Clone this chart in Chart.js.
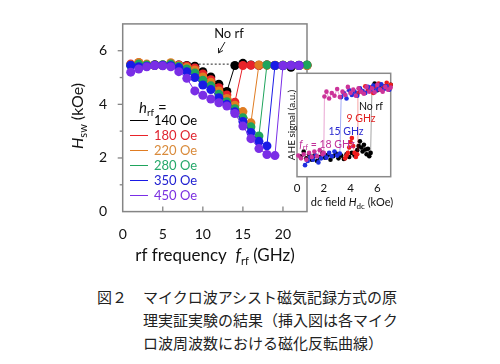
<!DOCTYPE html>
<html>
<head>
<meta charset="utf-8">
<script src="https://cdn.jsdelivr.net/npm/chart.js@4"></script>
<style>
  body { margin: 0; background: #fff; width: 500px; height: 364px; position: relative; overflow: hidden; }
  #wrap { position: absolute; left: 0; top: 0; width: 500px; height: 270px; }
  #wrap canvas { position: absolute; left: 0; top: 0; }
  .cap { position: absolute; font-family: "Noto Sans CJK JP"; font-size: 15px; color: #222; line-height: 23px; white-space: nowrap; }
</style>
</head>
<body>
<div id="wrap">
  <canvas id="main" width="500" height="270"></canvas>
  <canvas id="inset" width="500" height="270"></canvas>
</div>
<div class="cap" style="left:97px;top:285px">図２</div>
<div class="cap" style="left:143px;top:285px">マイクロ波アシスト磁気記録方式の原<br>理実証実験の結果（挿入図は各マイク<br>ロ波周波数における磁化反転曲線）</div>

<script>
// main plot: switching field vs rf frequency
const freqs = [1,2,3,4,5,6,7,8,9,10,11,12,13,14,15,16,17,18,19,20,21,22,23];
const hsw140 = [5.47,5.5,5.46,5.48,5.45,5.5,5.47,5.45,5.42,5.22,5.02,4.75,4.48,5.45,5.53,5.47,5.46,5.47,5.45,5.46,5.38,5.45,5.46];
const hsw180 = [5.5,5.55,5.47,5.46,5.47,5.5,5.47,5.43,5.36,5.13,4.92,4.62,4.35,4.08,5.45,5.46,5.45,5.47,5.46,5.45,5.46,5.45,5.46];
const hsw220 = [5.47,5.56,5.5,5.45,5.47,5.55,5.45,5.38,5.28,5.02,4.82,4.5,4.22,3.97,3.73,3.31,5.47,5.46,5.45,5.46,5.45,5.46,5.45];
const hsw280 = [5.45,5.5,5.47,5.46,5.48,5.5,5.42,5.32,5.17,4.9,4.69,4.38,4.1,3.84,3.5,3.16,2.82,5.47,5.45,5.46,5.46,5.45,5.47];
const hsw350 = [5.46,5.4,5.42,5.46,5.46,5.44,5.37,5.22,5.0,4.72,4.55,4.25,4.0,3.72,3.36,2.95,2.62,2.45,5.45,5.44,5.45,5.46,null];
const hsw450 = [5.2,5.32,5.4,5.45,5.44,5.4,5.22,4.97,4.5,4.34,4.2,4.06,3.94,3.66,3.19,2.72,2.35,2.13,2.09,5.45,5.46,5.45,null];
const noRfLevel = 5.5;

const seriesNames = ["140 Oe","180 Oe","220 Oe","280 Oe","350 Oe","450 Oe"];
const seriesValues = [hsw140, hsw180, hsw220, hsw280, hsw350, hsw450];
const seriesColors = ["#000000","#e8232a","#e07c22","#1fa45c","#1a1ae6","#7a2ee6"];
const legendColors = ["#000000","#e02530","#d98a3a","#25a86a","#2020d0","#7b30e0"];

const yLabels = [0,2,4,6];
const xLabels = [0,5,10,15,20];

// inset: AHE loops
const blackX = [0.3,0.5,0.7,0.9,1.1,1.3,1.5,1.7,1.9,2.1,2.3,2.5,2.7,2.9,3.1,3.3,3.5,3.7,3.9,4.1,4.3,4.5,4.6,4.7,4.8,4.9,5.0,5.1,5.2,5.3,5.4,5.5,5.6,5.8,6.0,6.2,6.4,6.6,6.8,7.0];
const blackY = [0.05,0.12,0.02,0.08,0.0,0.06,-0.02,0.04,0.1,0.03,0.07,0.0,0.05,0.09,0.02,0.06,0.01,0.08,0.04,0.1,0.06,0.14,0.2,0.27,0.18,0.12,0.22,0.15,0.08,0.16,0.05,0.1,1.06,1.12,1.02,1.1,1.04,1.08,1.05,1.1];
const redX = [3.6,3.7,3.8,3.9,4.0,4.1,4.2,4.3,4.4,4.5,4.55,4.7,4.9,5.1,5.3,5.5,5.7,5.9,6.1,6.3,6.5,6.7,6.9,7.0];
const redY = [0.02,0.06,0.1,0.18,0.26,0.32,0.2,0.1,0.04,0.08,0.98,1.04,0.99,1.08,1.02,1.06,0.98,1.05,1.12,1.03,1.08,1.13,1.04,1.1];
const blueX = [0.6,0.8,1.0,1.2,1.4,1.6,1.8,2.0,2.2,2.4,2.6,2.8,3.0,3.2,3.3,3.5,3.7,3.9,4.1,4.3,4.5,4.7,4.9,5.1,5.3,5.5,5.7,5.9,6.1,6.3,6.5,6.7,6.9];
const blueY = [-0.08,-0.02,0.04,0.0,0.06,-0.04,0.02,0.08,0.03,0.1,0.05,0.12,0.06,0.09,0.92,0.98,0.9,1.02,0.95,1.0,0.94,1.05,1.01,0.98,1.07,1.03,1.09,1.02,1.06,1.11,1.04,1.08,1.03];
const magX = [0.1,0.3,0.5,0.7,0.9,1.1,1.3,1.5,1.7,1.9,2.0,2.05,2.2,2.4,2.6,2.8,3.0,3.2,3.4,3.6,3.8,4.0,4.2,4.4,4.6,4.8,5.0,5.2,5.4,5.6,5.8,6.0,6.2,6.4,6.6,6.8,7.0];
const magY = [0.06,0.02,0.08,0.0,0.1,0.04,0.12,0.05,0.14,0.08,0.1,0.93,1.0,0.9,0.98,0.94,1.04,0.92,1.0,0.95,1.07,0.98,1.03,0.94,1.05,1.0,0.97,1.07,1.0,1.05,0.99,1.1,1.03,1.0,1.07,1.03,1.06];
const insetTicks = [0,2,4,6];

Chart.defaults.font.family = "Lato";
Chart.defaults.color = "#111";

function richText(ctx, parts, x, y, align) {
  let w = 0;
  for (const p of parts) { ctx.font = p[1]; w += ctx.measureText(p[0]).width; }
  let cx = align === "center" ? x - w / 2 : x;
  for (const p of parts) {
    ctx.font = p[1];
    ctx.fillText(p[0], cx, y + (p[2] || 0));
    cx += ctx.measureText(p[0]).width;
  }
}

function frame(ctx, a, color) {
  ctx.save();
  ctx.setLineDash([]);
  ctx.strokeStyle = color;
  ctx.lineWidth = 1.5;
  ctx.strokeRect(a.left, a.top, a.right - a.left, a.bottom - a.top);
  ctx.restore();
}

// nudge layout padding until the plot box sits where the picture has it
function pinArea(chart, target) {
  for (let k = 0; k < 3; k++) {
    const a = chart.chartArea, p = chart.options.layout.padding;
    p.left += target.left - a.left;
    p.top += target.top - a.top;
    p.right += a.right - target.right;
    p.bottom += a.bottom - target.bottom;
    chart.update();
  }
}

const mainDecor = {
  id: "mainDecor",
  beforeDatasetsDraw(chart) {
    const { ctx, chartArea: a, scales } = chart;
    frame(ctx, a, "#858585");
    ctx.save();
    ctx.strokeStyle = "#858585";
    ctx.lineWidth = 1.3;
    // y ticks (outside), minor at odd values
    for (let v = 1; v <= 6; v++) {
      const y = scales.y.getPixelForValue(v);
      const len = v % 2 === 0 ? 5 : 3;
      ctx.beginPath(); ctx.moveTo(a.left - len, y); ctx.lineTo(a.left, y); ctx.stroke();
    }
    // x ticks (inside)
    for (const v of xLabels.slice(1)) {
      const x = scales.x.getPixelForValue(v);
      ctx.beginPath(); ctx.moveTo(x, a.bottom); ctx.lineTo(x, a.bottom - 5); ctx.stroke();
    }
    ctx.restore();
  },
  afterDraw(chart) {
    const { ctx } = chart;
    ctx.save();
    ctx.fillStyle = "#111";
    ctx.textBaseline = "alphabetic";
    // axis titles
    richText(ctx, [["rf frequency  ", "17px Lato"], ["f", "italic 17px Lato"], ["rf", "11px Lato", 4], [" (GHz)", "17px Lato"]], 215, 261, "center");
    ctx.save();
    ctx.translate(77, 116);
    ctx.rotate(-Math.PI / 2);
    richText(ctx, [["H", "italic 16px Lato"], ["sw", "11px Lato", 4], [" (kOe)", "16px Lato"]], 0, 6, "center");
    ctx.restore();
    // no rf label + arrow
    ctx.font = "13px Lato";
    ctx.textAlign = "center";
    ctx.fillText("No rf", 229, 38);
    ctx.textAlign = "left";
    ctx.strokeStyle = "#222";
    ctx.lineWidth = 1;
    ctx.beginPath();
    ctx.moveTo(225, 42); ctx.lineTo(218.5, 53);
    ctx.moveTo(218.5, 53); ctx.lineTo(218.5, 48);
    ctx.moveTo(218.5, 53); ctx.lineTo(223, 50.5);
    ctx.stroke();
    // legend
    richText(ctx, [["h", "italic 15px Lato"], ["rf", "10px Lato", 3], [" =", "15px Lato"]], 139, 113, "left");
    ctx.textBaseline = "middle";
    ctx.font = "13px Lato";
    seriesNames.forEach((name, i) => {
      const y = 120 + i * 15;
      ctx.strokeStyle = seriesColors[i];
      ctx.beginPath(); ctx.moveTo(130, y + 0.5); ctx.lineTo(148, y + 0.5); ctx.stroke();
      ctx.fillStyle = legendColors[i];
      ctx.fillText(name, 154, y + 1);
    });
    ctx.restore();
  }
};

const mainDatasets = [{
  data: [{ x: 1, y: noRfLevel }, { x: 23, y: noRfLevel }],
  borderColor: "#222", borderWidth: 1, borderDash: [2, 2], pointRadius: 0, order: 10, clip: false
}];
seriesValues.forEach((vals, i) => {
  mainDatasets.push({
    data: freqs.map((f, k) => ({ x: f, y: vals[k] })),
    borderColor: seriesColors[i],
    backgroundColor: seriesColors[i],
    borderWidth: 1,
    pointRadius: 4.5,
    pointBorderWidth: 0,
    order: 6 - i,
    clip: false
  });
});

const mainChart = new Chart(document.getElementById("main"), {
  type: "line",
  data: { datasets: mainDatasets },
  options: {
    responsive: false,
    animation: false,
    events: [],
    layout: { autoPadding: false, padding: { left: 92.7, right: 193, top: 15, bottom: 18.4 } },
    plugins: { legend: { display: false }, tooltip: { enabled: false } },
    scales: {
      x: {
        type: "linear", min: 0, max: 23,
        grid: { display: false, tickLength: 0 }, border: { display: false },
        ticks: { stepSize: 5, includeBounds: false, font: { size: 14 }, padding: 14, color: "#111" },
        afterFit: s => { s.height = 40; }
      },
      y: {
        min: 0, max: 7,
        grid: { display: false, tickLength: 0 }, border: { display: false },
        ticks: { stepSize: 1, font: { size: 14 }, padding: 15.5, color: "#111",
                 callback: v => yLabels.includes(v) ? String(v) : "" },
        afterFit: s => { s.width = 30; }
      }
    }
  },
  plugins: [mainDecor]
});
pinArea(mainChart, { left: 122.7, right: 307, top: 15, bottom: 211.6 });

// inset
const insetDecor = {
  id: "insetDecor",
  beforeDatasetsDraw(chart) {
    const { ctx, chartArea: a } = chart;
    ctx.save();
    ctx.fillStyle = "#fff";
    ctx.fillRect(a.left, a.top, a.right - a.left, a.bottom - a.top);
    ctx.restore();
    frame(ctx, a, "#8a8a8a");
  },
  afterDraw(chart) {
    const { ctx } = chart;
    ctx.save();
    ctx.textBaseline = "alphabetic";
    ctx.fillStyle = "#111";
    richText(ctx, [["dc field ", "11px Lato"], ["H", "italic 11px Lato"], ["dc", "8px Lato", 3], [" (kOe)", "11px Lato"]], 352, 206, "center");
    ctx.save();
    ctx.translate(291, 125);
    ctx.rotate(-Math.PI / 2);
    ctx.font = "10px Lato";
    ctx.textAlign = "center";
    ctx.fillText("AHE signal (a.u.)", 0, 3.5);
    ctx.restore();
    ctx.font = "10.5px Lato";
    ctx.textAlign = "center";
    ctx.fillStyle = "#111"; ctx.fillText("No rf", 371, 110);
    ctx.fillStyle = "#e02020"; ctx.fillText("9 GHz", 361, 121.5);
    ctx.fillStyle = "#2a2ad0"; ctx.fillText("15 GHz", 346, 134.5);
    ctx.textAlign = "left";
    ctx.fillStyle = "#c0309a";
    richText(ctx, [["f", "italic 10.5px Lato"], ["rf", "7.5px Lato", 2.5], [" = 18 GHz", "10.5px Lato"]], 327, 147.5, "center");
    ctx.restore();
  }
};

function loop(xs, ys, color, line, order) {
  return {
    data: xs.map((x, k) => ({ x: x, y: ys[k] })),
    borderColor: line, backgroundColor: color, borderWidth: 0.8,
    pointRadius: 2.3, pointBorderWidth: 0, order: order, clip: false
  };
}

const insetChart = new Chart(document.getElementById("inset"), {
  type: "line",
  data: {
    datasets: [
      loop(magX, magY, "#cc3399", "rgba(204,51,153,0.55)", 1),
      loop(blueX, blueY, "#1f2fe0", "rgba(31,47,224,0.5)", 2),
      loop(redX, redY, "#ee1c1c", "rgba(238,28,28,0.5)", 3),
      loop(blackX, blackY, "#000000", "rgba(0,0,0,0.45)", 4)
    ]
  },
  options: {
    responsive: false,
    animation: false,
    events: [],
    layout: { autoPadding: false, padding: { left: 297, right: 109.3, top: 73.3, bottom: 63.3 } },
    plugins: { legend: { display: false }, tooltip: { enabled: false } },
    scales: {
      x: {
        type: "linear", min: 0, max: 7,
        grid: { display: false, tickLength: 0 }, border: { display: false },
        ticks: { stepSize: 2, includeBounds: false, font: { size: 11.5 }, padding: 5, color: "#111",
                 callback: v => insetTicks.includes(v) ? String(v) : "" },
        afterFit: s => { s.height = 30; }
      },
      y: { display: false, min: -0.25, max: 1.27 }
    }
  },
  plugins: [insetDecor]
});
pinArea(insetChart, { left: 297, right: 390.7, top: 73.3, bottom: 176.7 });
</script>
</body>
</html>
